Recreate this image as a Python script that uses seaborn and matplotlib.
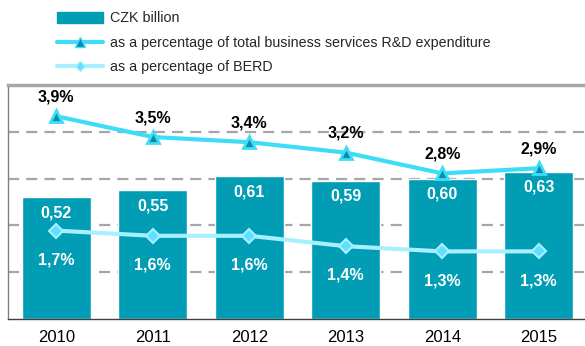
import matplotlib
matplotlib.use("Agg")
import matplotlib.pyplot as plt
import seaborn as sns
import pandas as pd
from matplotlib.patches import Patch
from matplotlib.lines import Line2D

years = ["2010", "2011", "2012", "2013", "2014", "2015"]
czk_billion = [0.52, 0.55, 0.61, 0.59, 0.60, 0.63]
pct_services = [3.9, 3.5, 3.4, 3.2, 2.8, 2.9]
pct_berd = [1.7, 1.6, 1.6, 1.4, 1.3, 1.3]

BAR = "#009DB5"
LINE1 = "#3DDDF8"
TRI_FILL = "#0E8CA6"
LINE2 = "#A8F0FF"
DIA_FILL = "#5FE0FF"
GRID = "#A6A6A6"

sns.set_theme(style="white")
plt.rcParams["font.family"] = ["Liberation Sans", "DejaVu Sans"]

df = pd.DataFrame({"year": years, "czk": czk_billion,
                   "services": pct_services, "berd": pct_berd})

fig = plt.figure(figsize=(5.85, 3.46), dpi=100)
ax = fig.add_axes([8 / 585, 27 / 346, 579 / 585, 234 / 346])

sns.barplot(data=df, x="year", y="czk", color=BAR, width=0.71,
            saturation=1, ax=ax, zorder=2)
ax.set_xlim(-0.5, 5.5)
ax.set_ylim(0, 1.0)
ax.set_xlabel("")
ax.set_ylabel("")
ax.set_yticks([])

for yv in [0.2, 0.4, 0.6, 0.8]:
    ax.axhline(yv, color=GRID, lw=1.6, ls=(0, (5, 3.2)), zorder=1)

ax.spines["right"].set_visible(False)
ax.spines["top"].set_color(GRID)
ax.spines["top"].set_linewidth(2.5)
ax.spines["left"].set_color("#808080")
ax.spines["left"].set_linewidth(1.0)
ax.spines["bottom"].set_color("#404040")
ax.spines["bottom"].set_linewidth(1.0)

ax.set_xticks(range(len(years)))
ax.set_xticklabels(years, fontsize=12, color="black")
ax.tick_params(axis="x", length=0, pad=8)
ax.set_xticks([i - 0.5 for i in range(len(years) + 1)], minor=True)
ax.tick_params(axis="x", which="minor", length=5, width=1, color="#404040",
               direction="out")

for i, v in enumerate(czk_billion):
    ax.annotate(f"{v:.2f}".replace(".", ","), (i, v), xytext=(0, -11),
                textcoords="offset points", ha="center", va="center",
                color="white", fontsize=11.5, fontweight="bold", zorder=5)

ax2 = ax.twinx()
ax2.set_ylim(0, 4.5)
ax2.set_yticks([])
for s in ax2.spines.values():
    s.set_visible(False)

x_idx = list(range(len(years)))
sns.lineplot(x=x_idx, y=pct_services, ax=ax2, color=LINE1, lw=3,
             marker="^", markersize=9, markerfacecolor=TRI_FILL,
             markeredgecolor=LINE1, markeredgewidth=2)
sns.lineplot(x=x_idx, y=pct_berd, ax=ax2, color=LINE2, lw=3,
             marker="D", markersize=7.5, markerfacecolor=DIA_FILL,
             markeredgecolor=LINE2, markeredgewidth=1.5)
ax2.set_xlim(-0.5, 5.5)

for i, v in enumerate(pct_services):
    ax2.annotate(f"{v:.1f}%".replace(".", ","), (i, v), xytext=(0, 14),
                 textcoords="offset points", ha="center", va="center",
                 color="black", fontsize=11.5, fontweight="bold")
for i, v in enumerate(pct_berd):
    ax2.annotate(f"{v:.1f}%".replace(".", ","), (i, v), xytext=(0, -21),
                 textcoords="offset points", ha="center", va="center",
                 color="white", fontsize=11.5, fontweight="bold")

handles = [
    Patch(facecolor=BAR, edgecolor=BAR),
    Line2D([0], [0], color=LINE1, lw=3, marker="^", markersize=7,
           markerfacecolor=TRI_FILL, markeredgecolor=LINE1),
    Line2D([0], [0], color=LINE2, lw=3, marker="D", markersize=5,
           markerfacecolor=DIA_FILL, markeredgecolor=LINE2),
]
labels = ["CZK billion",
          "as a percentage of total business services R&D expenditure",
          "as a percentage of BERD"]
fig.legend(handles, labels, loc="upper left", bbox_to_anchor=(46 / 585, 1.0),
           frameon=False, fontsize=10.3, handlelength=3.2, handleheight=0.8,
           handletextpad=0.5, labelspacing=0.72, borderpad=0.3)

fig.savefig("out.png", dpi=100)
